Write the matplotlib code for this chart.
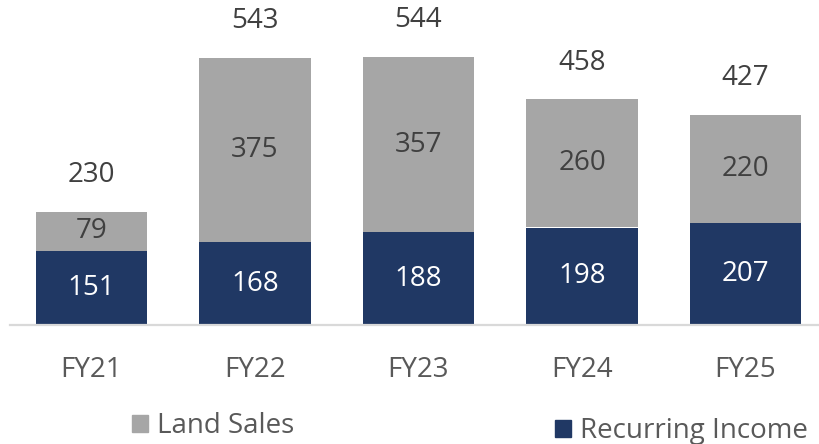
import numpy as np
import matplotlib.pyplot as plt
from matplotlib.patches import Patch

plt.rcParams['font.family'] = ['Open Sans', 'DejaVu Sans']

# Data
years = ['FY21', 'FY22', 'FY23', 'FY24', 'FY25']
recurring = np.array([151, 168, 188, 198, 207])
land = np.array([79, 375, 357, 260, 220])
totals = [230, 543, 544, 458, 427]  # as printed in the source (rounded)

navy = '#203864'
grey = '#a6a6a6'
txt = '#404040'

W, H = 819, 444
fig = plt.figure(figsize=(W/100, H/100), dpi=100)
ax = fig.add_axes([9.75/W, (H-325)/H, 817.5/W, 325/H])

x = np.arange(len(years))
b1 = ax.bar(x, recurring, width=0.68, color=navy)
b2 = ax.bar(x, land, width=0.68, bottom=recurring, color=grey)
ax.bar_label(b1, labels=[str(v) for v in recurring], label_type='center',
             color='white', fontsize=20)
ax.bar_label(b2, labels=[str(v) for v in land], label_type='center',
             color=txt, fontsize=20)
for xi, top, t in zip(x, recurring + land, totals):
    ax.annotate(str(t), (xi, top), xytext=(0, 26.6), textcoords='offset points',
                ha='center', va='center', fontsize=20, color=txt)

ax.set_xlim(-0.5, 4.5)
ax.set_ylim(0, 660)
ax.set_xticks(x, years)
ax.tick_params(axis='x', length=0, pad=22, labelsize=20, labelcolor='#595959')
ax.set_yticks([])
for s in ['top', 'right', 'left']:
    ax.spines[s].set_visible(False)
ax.spines['bottom'].set_color('#d9d9d9')
ax.spines['bottom'].set_linewidth(1.6)

# legends (two separate entries, like the source)
leg_kw = dict(frameon=False, fontsize=20, handlelength=0.58, handleheight=0.58,
              handletextpad=0.32, borderpad=0, borderaxespad=0, labelcolor='#595959',
              loc='center left')
fig.legend(handles=[Patch(color=grey, label='Land Sales')],
           bbox_to_anchor=(131.7/W, 1 - 426/H), **leg_kw)
fig.legend(handles=[Patch(color=navy, label='Recurring Income')],
           bbox_to_anchor=(555/W, 1 - 431/H), **leg_kw)

fig.savefig('out.png', dpi=100)
